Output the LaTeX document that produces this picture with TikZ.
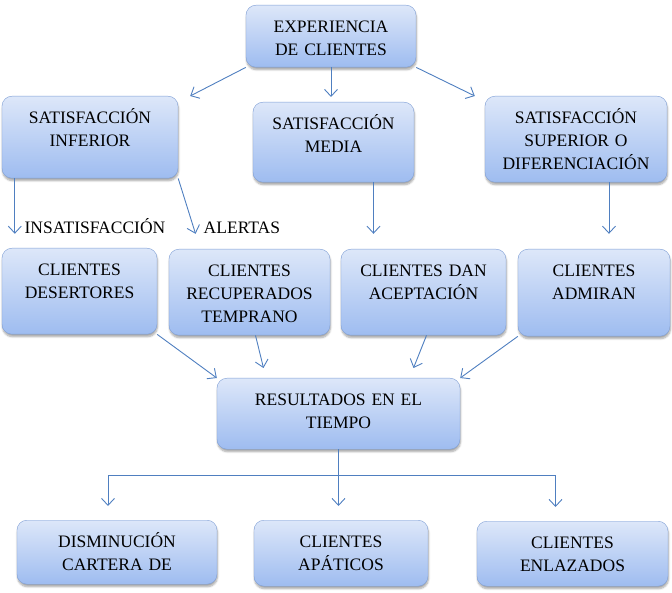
\documentclass[tikz,border=0pt]{standalone}
\usepackage{fontspec}
\setmainfont{Liberation Serif}
\usetikzlibrary{arrows.meta,positioning,shadows.blur}
\definecolor{cboxtop}{HTML}{DDE7F9}
\definecolor{cboxbot}{HTML}{9EBCF0}
\definecolor{cboxline}{HTML}{7F9FD6}
\definecolor{carrow}{HTML}{4F7FC0}

\begin{document}
\begin{tikzpicture}[
  x=1pt, y=-1pt,
  card/.style={draw=cboxline, rounded corners=10pt, top color=cboxtop,
               bottom color=cboxbot, anchor=north, inner xsep=4pt,
               inner ysep=0pt, text height=27pt, align=center,
               font=\fontsize{17.5}{23}\selectfont,
               blur shadow={shadow xshift=0.5pt, shadow yshift=-2.5pt,
                            shadow opacity=35, shadow blur steps=6}},
  tag/.style={inner sep=0pt, font=\fontsize{17.5}{23}\selectfont},
  link/.style={-{Straight Barb[length=7pt,width=13pt]}, carrow, line width=0.9pt}
]
\useasboundingbox (0,0) rectangle (672,593);

% top
\node[card, text width=162pt, text depth=35pt] (exp) at (331,5) {EXPERIENCIA\\DE CLIENTES};

% satisfaction levels
\node[card, text width=168pt, text depth=55pt] (satinf) at (90,96) {SATISFACCIÓN\\INFERIOR};
\node[card, text width=153pt, text depth=53pt] (satmed) at (333.5,102) {SATISFACCIÓN\\MEDIA};
\node[card, text width=174pt, text depth=59pt] (satsup) at (576,96) {SATISFACCIÓN\\SUPERIOR O\\DIFERENCIACIÓN};

\node[tag, anchor=base] (insat) at (95,233.8) {INSATISFACCIÓN};
\node[tag, base right=38pt of insat] (alert) {ALERTAS};

% clients
\node[card, text width=147pt, text depth=59pt] (deser) at (79.5,248) {CLIENTES\\DESERTORES};
\node[card, text width=153pt, text depth=59pt] (recup) at (249.5,249) {CLIENTES\\RECUPERADOS\\TEMPRANO};
\node[card, text width=157pt, text depth=59pt] (acept) at (423.5,249) {CLIENTES DAN\\ACEPTACIÓN};
\node[card, text width=144pt, text depth=60pt] (admir) at (594,249) {CLIENTES\\ADMIRAN};

\node[card, text width=235pt, text depth=44pt] (result) at (338.5,378) {RESULTADOS EN EL\\TIEMPO};

% outcomes
\node[card, text width=192pt, text depth=37pt] (dism) at (117,520) {DISMINUCIÓN\\CARTERA DE};
\node[card, text width=166pt, text depth=39pt] (apat) at (341,520) {CLIENTES\\APÁTICOS};
\node[card, text width=183pt, text depth=38pt] (enlaz) at (572.5,521) {CLIENTES\\ENLAZADOS};

% arrows
\draw[link] (exp.south west) -- ([xshift=12pt]satinf.north east);
\draw[link, shorten >=5pt] (exp.south) -- (exp.south |- satmed.north);
\draw[link] (exp.south east) -- ([xshift=-10pt]satsup.north west);

\coordinate (inA) at ([xshift=13pt]satinf.south west);
\coordinate (medA) at ([xshift=40pt]satmed.south);
\coordinate (supA) at ([xshift=33pt]satsup.south);
\draw[link] (inA) -- (inA |- insat.base);
\draw[link] (satinf.south east) -- ([xshift=-8pt]alert.base west);
\draw[link] (medA) -- (medA |- insat.base);
\draw[link] (supA) -- (supA |- insat.base);

\draw[link] (deser.south east) -- (result.north west);
\draw[link] ([xshift=6pt]recup.south) -- ([xshift=-75pt,yshift=10pt]result.north);
\draw[link] ([xshift=3pt]acept.south) -- ([xshift=75pt,yshift=10pt]result.north);
\draw[link] (admir.south west) -- (result.north east);

\draw[carrow, line width=0.9pt] (result.south) -- ++(0,26) coordinate (split);
\draw[link] (split) -| ([xshift=-9pt,yshift=14pt]dism.north);
\draw[link, shorten >=14pt] (split) -- (split |- apat.north);
\draw[link] (split) -| ([xshift=-17pt,yshift=14pt]enlaz.north);
\end{tikzpicture}
\end{document}
